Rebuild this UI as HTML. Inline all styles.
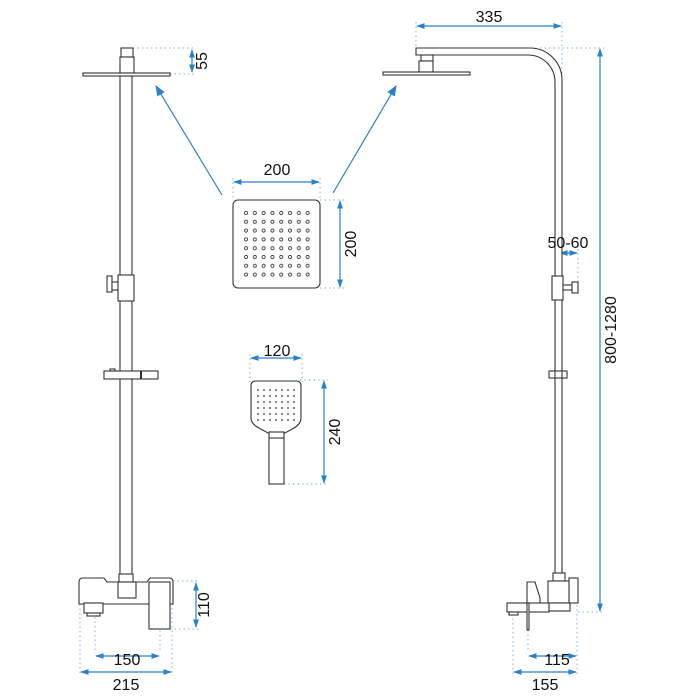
<!DOCTYPE html>
<html><head><meta charset="utf-8"><style>
html,body{margin:0;padding:0;background:#fff}
svg{display:block}
text{font-family:"Liberation Sans",sans-serif;font-size:16px;fill:#111}
</style></head><body>
<svg width="700" height="700" viewBox="0 0 700 700" xmlns="http://www.w3.org/2000/svg">
<defs>
<marker id="a" viewBox="0 0 10 10" refX="9" refY="5" markerWidth="7" markerHeight="7" orient="auto-start-reverse"><path d="M0,1.5 L10,5 L0,8.5 z" fill="#2a7fcf"/></marker>
<marker id="b" viewBox="0 0 10 10" refX="9" refY="5" markerWidth="9" markerHeight="9" orient="auto"><path d="M0,1 L10,5 L0,9 z" fill="#2a7fcf"/></marker>
<pattern id="dots" x="244" y="211" width="8.8" height="8.8" patternUnits="userSpaceOnUse"><circle cx="2" cy="2" r="1.6" fill="none" stroke="#333" stroke-width="0.8"/></pattern>
<pattern id="hd" x="256" y="388" width="6" height="6" patternUnits="userSpaceOnUse"><circle cx="2" cy="2" r="0.9" fill="#333"/></pattern>
</defs>
<g fill="none" stroke="#7fb0e0" stroke-width="1" stroke-dasharray="1.5,3">
<line x1="133" y1="48" x2="196" y2="48"/><line x1="170" y1="74" x2="196" y2="74"/>
<line x1="173" y1="581" x2="200" y2="581"/><line x1="170" y1="629" x2="200" y2="629"/>
<line x1="95" y1="590" x2="95" y2="652"/><line x1="160" y1="590" x2="160" y2="652"/>
<line x1="80" y1="604" x2="80" y2="676"/><line x1="172" y1="590" x2="172" y2="676"/>
<line x1="233" y1="178" x2="233" y2="200"/><line x1="320" y1="178" x2="320" y2="200"/>
<line x1="320" y1="200" x2="344" y2="200"/><line x1="320" y1="288" x2="344" y2="288"/>
<line x1="250" y1="354" x2="250" y2="382"/><line x1="302" y1="354" x2="302" y2="382"/>
<line x1="300" y1="380" x2="328" y2="380"/><line x1="284" y1="484" x2="328" y2="484"/>
<line x1="416" y1="22" x2="416" y2="48"/><line x1="562" y1="22" x2="562" y2="92"/>
<line x1="540" y1="48" x2="604" y2="48"/><line x1="578" y1="612" x2="604" y2="612"/>
<line x1="559" y1="249" x2="559" y2="280"/><line x1="578" y1="249" x2="578" y2="285"/>
<line x1="528" y1="612" x2="528" y2="652"/><line x1="577" y1="605" x2="577" y2="676"/>
<line x1="513" y1="614" x2="513" y2="676"/>
</g>
<g stroke="#2a7fcf" stroke-width="1.2" fill="none">
<line x1="192" y1="50" x2="192" y2="72" marker-start="url(#a)" marker-end="url(#a)"/>
<line x1="96" y1="656" x2="159" y2="656" marker-start="url(#a)" marker-end="url(#a)"/>
<line x1="81" y1="672" x2="171" y2="672" marker-start="url(#a)" marker-end="url(#a)"/>
<line x1="196" y1="583" x2="196" y2="627" marker-start="url(#a)" marker-end="url(#a)"/>
<line x1="234" y1="182" x2="319" y2="182" marker-start="url(#a)" marker-end="url(#a)"/>
<line x1="340" y1="201" x2="340" y2="287" marker-start="url(#a)" marker-end="url(#a)"/>
<line x1="251" y1="358" x2="301" y2="358" marker-start="url(#a)" marker-end="url(#a)"/>
<line x1="324" y1="381" x2="324" y2="483" marker-start="url(#a)" marker-end="url(#a)"/>
<line x1="417" y1="26" x2="561" y2="26" marker-start="url(#a)" marker-end="url(#a)"/>
<line x1="600" y1="49" x2="600" y2="611" marker-start="url(#a)" marker-end="url(#a)"/>
<line x1="560" y1="253" x2="577" y2="253" marker-start="url(#a)" marker-end="url(#a)"/>
<line x1="529" y1="656" x2="576" y2="656" marker-start="url(#a)" marker-end="url(#a)"/>
<line x1="514" y1="672" x2="576" y2="672" marker-start="url(#a)" marker-end="url(#a)"/>
<line x1="222" y1="195" x2="156" y2="86" marker-end="url(#b)"/>
<line x1="333" y1="193" x2="396" y2="86" marker-end="url(#b)"/>
</g>
<g fill="#fff" stroke="#333" stroke-width="1.1">
<rect x="120" y="76" width="12" height="500"/>
<rect x="121" y="48" width="12" height="9"/><rect x="120" y="57" width="14" height="16"/>
<rect x="83" y="73" width="87" height="3"/>
<rect x="107" y="276" width="5" height="16"/><rect x="112" y="282" width="6" height="8"/>
<rect x="118" y="275" width="16" height="26"/>
<rect x="104" y="371" width="54" height="8"/><line x1="141" y1="371" x2="141" y2="379" stroke-width="2"/>
<rect x="110" y="369" width="5" height="2"/>
<rect x="119" y="574" width="14" height="8"/>
<path d="M79,604 L79,582 Q79,578 83,578 L104,578 L107,582 L147,582 L150,578 L169,578 Q173,578 173,582 L173,604 Z"/>
<rect x="118" y="582" width="18" height="16"/>
<rect x="84" y="603" width="19" height="10"/><rect x="87" y="613" width="13" height="3"/>
<rect x="149" y="582" width="21" height="47"/>
<rect x="233" y="200" width="87" height="88" rx="5"/>
<rect x="244" y="211" width="68" height="68" fill="url(#dots)" stroke="none"/>
<path d="M256,381 L296,381 Q301,381 301,386 L301,418 Q301,424 294,428 L285,433 L268,433 L259,428 Q251,424 251,418 L251,386 Q251,381 256,381 Z"/>
<rect x="256" y="388" width="40" height="34" fill="url(#hd)" stroke="none"/>
<rect x="269" y="432" width="15" height="52"/><line x1="269" y1="438" x2="284" y2="438"/>
<path d="M416,48 L530,48 A32,32 0 0 1 562,80 L562,573 L555,573 L555,82 A27,27 0 0 0 528,55 L416,55 Z"/>
<rect x="421" y="55" width="12" height="6"/><rect x="419" y="61" width="14" height="11"/>
<rect x="383" y="72" width="87" height="3"/>
<rect x="552" y="276" width="11" height="24"/>
<rect x="563" y="285" width="9" height="5"/><rect x="572" y="282" width="6" height="11"/>
<rect x="549" y="371" width="18" height="7"/><line x1="555" y1="371" x2="555" y2="378"/><line x1="562" y1="371" x2="562" y2="378"/>
<rect x="553" y="573" width="12" height="8"/>
<rect x="569" y="578" width="9" height="25"/>
<rect x="548" y="581" width="21" height="22"/>
<path d="M527,582 L535,582 L540,598 L540,603 L527,603 Z"/>
<rect x="507" y="603" width="42" height="9"/><rect x="509" y="612" width="9" height="3"/>
<rect x="549" y="603" width="21" height="8"/>
<rect x="527" y="603" width="2" height="27"/>
</g>
<g>
<text x="203" y="61" transform="rotate(-90 203 61)" text-anchor="middle" dominant-baseline="middle">55</text>
<text x="127" y="665" text-anchor="middle">150</text>
<text x="126" y="690" text-anchor="middle">215</text>
<text x="205" y="605" transform="rotate(-90 205 605)" text-anchor="middle" dominant-baseline="middle">110</text>
<text x="277" y="175" text-anchor="middle">200</text>
<text x="352" y="244" transform="rotate(-90 352 244)" text-anchor="middle" dominant-baseline="middle">200</text>
<text x="277" y="356" text-anchor="middle">120</text>
<text x="336" y="432" transform="rotate(-90 336 432)" text-anchor="middle" dominant-baseline="middle">240</text>
<text x="489" y="22" text-anchor="middle">335</text>
<text x="568" y="248" text-anchor="middle">50-60</text>
<text x="612" y="330" transform="rotate(-90 612 330)" text-anchor="middle" dominant-baseline="middle">800-1280</text>
<text x="557" y="665" text-anchor="middle">115</text>
<text x="545" y="690" text-anchor="middle">155</text>
</g>
</svg>
</body></html>
